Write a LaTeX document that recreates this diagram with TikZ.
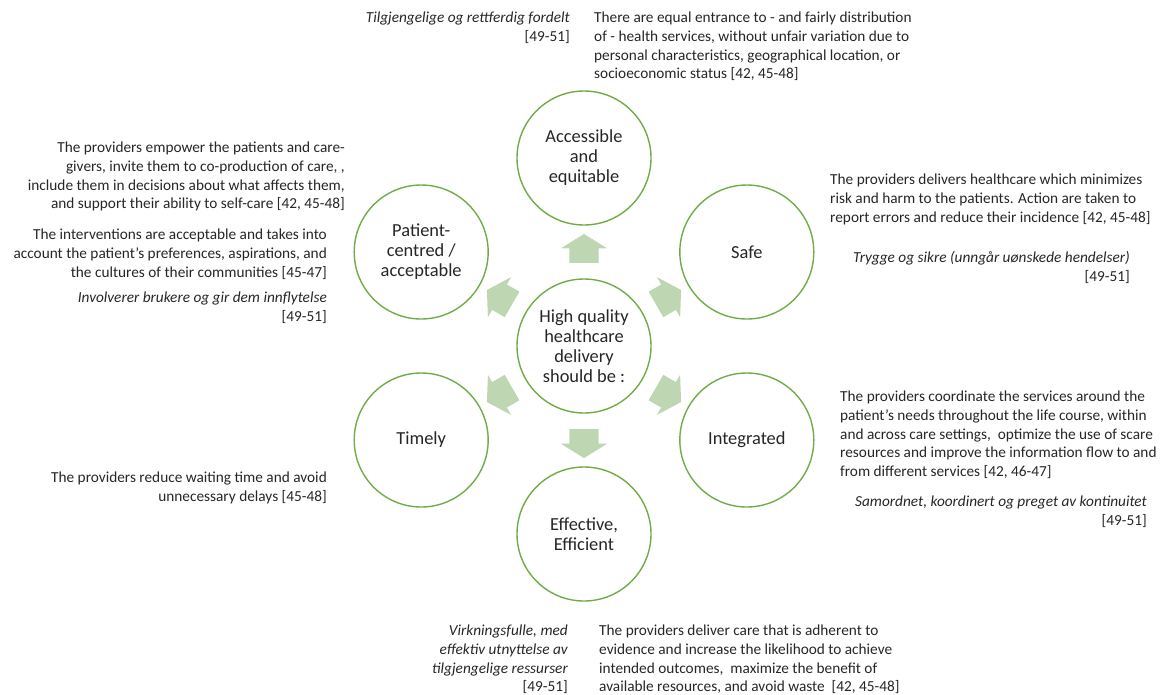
\documentclass[tikz,border=0pt]{standalone}
\usepackage{fontspec}
\setmainfont{Carlito}
\usetikzlibrary{shapes.arrows}
\definecolor{ringgreen}{RGB}{112,173,71}
\definecolor{flowgreen}{RGB}{190,214,178}
\definecolor{inkgray}{RGB}{38,38,38}

\begin{document}
\begin{tikzpicture}[
  x=1pt, y=-1pt,
  ring/.style={
    circle, draw=ringgreen, line width=1.4pt, fill=white,
    minimum size=134pt, inner sep=0pt, align=center, text=inkgray,
    font=\fontsize{18.4}{20}\selectfont
  },
  flow/.style={
    single arrow, fill=flowgreen, draw=none,
    minimum height=29pt, inner xsep=0pt, inner ysep=14.5pt,
    text height=0pt, text depth=0pt,
    single arrow head extend=8.5pt, single arrow tip angle=116
  },
  desc/.style={
    inner sep=0pt, text=inkgray,
    font=\fontsize{15.3}{18.7}\selectfont
  },
  note/.style={
    desc, anchor=north east, align=right
  }
  ]
  \useasboundingbox (0,0) rectangle (1164,694);

  \node [ring] (hub) at (584,346) {High quality\\healthcare\\delivery\\should be :};
  \node [ring] (access) at ([shift={(90:188pt)}]hub) {Accessible\\and\\equitable};
  \node [ring] (safe) at ([shift={(30:188pt)}]hub) {Safe};
  \node [ring] (integr) at ([shift={(-30:188pt)}]hub) {Integrated};
  \node [ring] (effect) at ([shift={(-90:188pt)}]hub) {Effective,\\Efficient};
  \node [ring] (timely) at ([shift={(-150:188pt)}]hub) {Timely};
  \node [ring] (patient) at ([shift={(150:188pt)}]hub) {Patient-\\centred /\\acceptable};

  \foreach \a [count=\i] in {90,30,-30,-90,-150,150}
    \node [flow, rotate=\a] (arr\i) at ([shift={(\a:93pt)}]hub) {};

  \node [note] (accessnote) at (570,12)
    {\itshape Tilgjengelige og rettferdig fordelt\\{[49-51]}};
  \node [desc, anchor=north west, align=left] (accessdesc) at (594,12)
    {There are equal entrance to - and fairly distribution\\of - health services, without unfair variation due to\\personal characteristics, geographical location, or\\socioeconomic status [42, 45-48]};

  \node [desc, anchor=north east, align=right] (patientdesc) at (345,142)
    {The providers empower the patients and care-\\givers, invite them to co-production of care, ,\\include them in decisions about what affects them,\\and support their ability to self-care [42, 45-48]};
  \node [desc, anchor=north east, align=right] (patientaccept) at (327,229)
    {The interventions are acceptable and takes into\\account the patient’s preferences, aspirations, and\\the cultures of their communities [45-47]};
  \node [note] (patientnote) at (327,292)
    {\itshape Involverer brukere og gir dem innflytelse\\{[49-51]}};

  \node [desc, anchor=north west, align=left] (safedesc) at (830,174)
    {The providers delivers healthcare which minimizes\\risk and harm to the patients. Action are taken to\\report errors and reduce their incidence [42, 45-48]};
  \node [note] (safenote) at (1130,251)
    {\itshape Trygge og sikre (unngår uønskede hendelser)\\{[49-51]}};

  \node [desc, anchor=north west, align=left] (integrdesc) at (840,391)
    {The providers coordinate the services around the\\patient’s needs throughout the life course, within\\and across care settings,\ \ optimize the use of scare\\resources and improve the information flow to and\\from different services [42, 46-47]};
  \node [note] (integrnote) at (1147,496)
    {\itshape Samordnet, koordinert og preget av kontinuitet\\{[49-51]}};

  \node [desc, anchor=north east, align=right] (timelydesc) at (327,472)
    {The providers reduce waiting time and avoid\\unnecessary delays [45-48]};

  \node [note] (effectnote) at (568,625)
    {\itshape Virkningsfulle, med\\\itshape effektiv utnyttelse av\\\itshape tilgjengelige ressurser\\{[49-51]}};
  \node [desc, anchor=north west, align=left] (effectdesc) at (599,625)
    {The providers deliver care that is adherent to\\evidence and increase the likelihood to achieve\\intended outcomes,\ \ maximize the benefit of\\available resources, and avoid waste\ \ [42, 45-48]};
\end{tikzpicture}
\end{document}
